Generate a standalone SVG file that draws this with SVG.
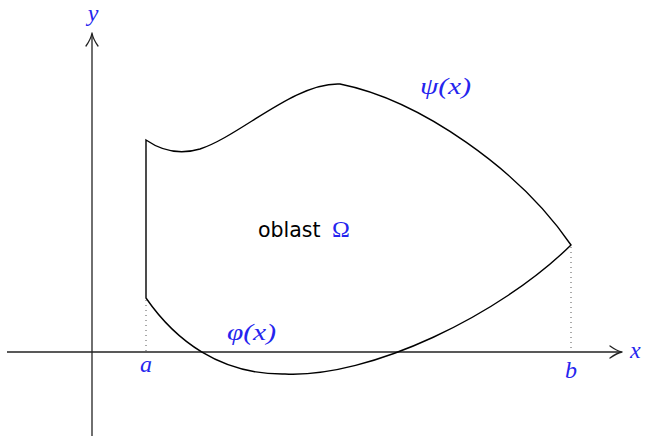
<svg xmlns="http://www.w3.org/2000/svg" width="649" height="436" viewBox="0 0 649 436">
<style>
.axis{fill:none;stroke:#222;stroke-width:1.3}
.tip{fill:none;stroke:#222;stroke-width:1.3;stroke-linecap:round;stroke-linejoin:round}
.curve{fill:none;stroke:#000;stroke-width:1.4;stroke-linejoin:miter}
.dot{fill:none;stroke:#555;stroke-width:1;stroke-dasharray:1 4}
.m{font-family:"Liberation Serif","DejaVu Serif",serif;font-style:italic;fill:#2525ee;font-size:24px}
.up{font-family:"Liberation Serif","DejaVu Serif",serif;fill:#2525ee;font-size:24px}
.t{font-family:"DejaVu Sans","Liberation Sans",sans-serif;fill:#000;font-size:20.5px}
</style>
<rect width="649" height="436" fill="#fff"/>
<g id="axes">
<path class="axis" d="M7,352 H621"/>
<path class="axis" d="M92,436 V34"/>
<path class="tip" d="M610,346 Q617,351 622,352 Q617,353 610,358"/>
<path class="tip" d="M86,46 Q91,39 92,33 Q93,39 98,46"/>
</g>
<g id="region">
<path class="curve" d="M146,298 V140 C162,151 180,155 200,149 C240,136 295,82 340,84 C420,100 520,170 571,245 C500,315 370,378 285,374 C220,375 175,340 146,298 Z"/>
</g>
<g id="guides">
<path class="dot" d="M146,300 V352"/>
<path class="dot" d="M571,247 V352"/>
</g>
<g id="labels">
<text class="m" x="93" y="21" text-anchor="middle">y</text>
<text class="m" x="630" y="358">x</text>
<text class="m" x="146" y="372" text-anchor="middle">a</text>
<text class="m" x="571" y="378" text-anchor="middle">b</text>
<text class="m" x="227" y="340" textLength="49" lengthAdjust="spacingAndGlyphs">φ(x)</text>
<text class="m" x="420" y="94" textLength="51" lengthAdjust="spacingAndGlyphs">ψ(x)</text>
<text x="258" y="237"><tspan class="t">oblast</tspan><tspan class="up" x="332">Ω</tspan></text>
</g>
</svg>
